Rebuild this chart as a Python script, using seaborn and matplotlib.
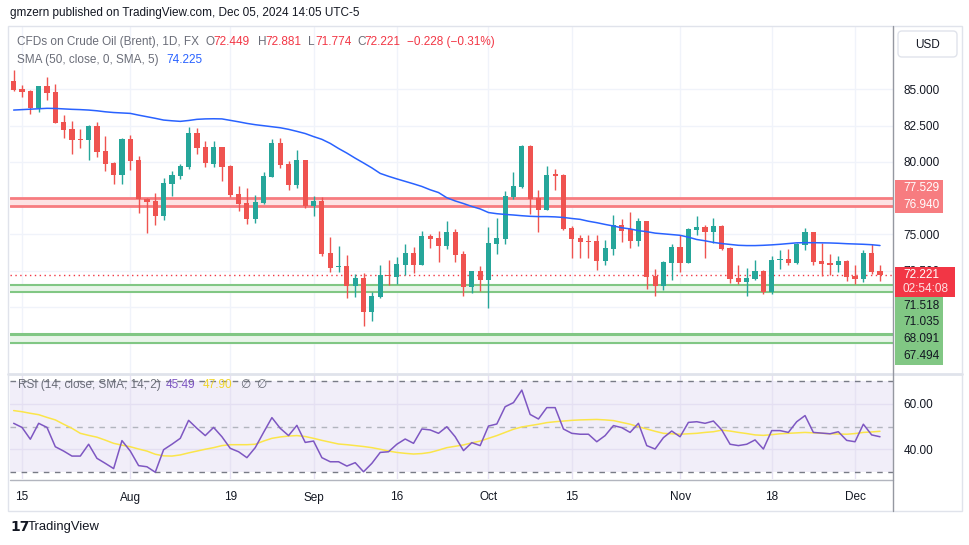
import numpy as np
import pandas as pd
import matplotlib
matplotlib.use("Agg")
import matplotlib.pyplot as plt
from matplotlib.patches import Rectangle, FancyBboxPatch
import seaborn as sns

# ---------------- data ----------------
dates = pd.bdate_range("2024-07-12", "2024-12-05")

opens = [85.57, 85.02, 84.88, 83.69, 85.23, 84.81, 82.74, 82.26, 81.57, 81.50,
         82.47, 80.74, 79.89, 79.09, 81.57, 80.12, 77.41, 77.30, 76.26, 78.47,
         79.02, 79.62, 81.99, 81.00, 79.85, 81.00, 79.71, 77.76, 77.14, 76.08,
         77.14, 78.97, 81.30, 79.85, 78.42, 80.12, 76.97, 77.30, 73.69, 72.74,
         72.81, 71.46, 71.99, 69.66, 70.70, 72.22, 72.08, 72.88, 73.71, 72.88,
         74.88, 74.74, 74.19, 75.16, 73.64, 71.39, 72.47, 71.87, 74.33, 74.70,
         77.59, 78.29, 81.09, 77.50, 76.68, 79.13, 79.09, 75.43, 74.74, 74.54,
         74.54, 73.18, 73.99, 75.64, 75.34, 74.56, 75.92, 72.12, 71.43, 73.04,
         74.12, 73.04, 75.30, 75.50, 75.16, 75.57, 74.06, 71.99, 71.71, 71.92,
         72.47, 71.02, 73.25, 73.30, 73.02, 74.26, 75.16, 73.16, 73.02, 72.88,
         73.16, 72.12, 71.92, 73.71, 72.449]
highs = [86.33, 85.30, 84.92, 85.23, 85.87, 85.37, 83.23, 82.81, 82.24, 82.54,
         82.77, 81.78, 79.99, 81.64, 81.85, 80.40, 77.48, 77.83, 78.86, 79.37,
         79.83, 82.38, 82.31, 81.43, 81.43, 81.02, 79.78, 78.33, 78.17, 77.71,
         79.30, 81.57, 81.64, 80.08, 80.81, 80.14, 77.64, 77.60, 74.79, 74.19,
         73.57, 72.26, 72.31, 71.04, 72.86, 73.23, 73.41, 74.33, 74.15, 75.23,
         75.02, 75.23, 75.92, 75.37, 73.87, 72.49, 72.81, 75.50, 76.12, 77.99,
         79.30, 81.16, 81.16, 78.05, 79.71, 79.50, 79.15, 75.57, 74.95, 74.95,
         74.95, 74.61, 76.33, 76.06, 76.54, 76.12, 75.95, 72.61, 73.16, 74.33,
         74.95, 75.43, 76.26, 75.64, 76.12, 75.64, 74.12, 72.88, 72.67, 73.23,
         72.54, 73.50, 73.92, 73.99, 74.40, 75.43, 75.18, 74.40, 73.64, 73.50,
         73.23, 72.88, 73.92, 74.33, 72.881]
lows = [84.90, 84.49, 83.30, 83.46, 84.26, 82.65, 81.66, 80.54, 80.93, 80.12,
        80.35, 79.39, 78.47, 78.47, 79.43, 76.45, 75.11, 75.64, 75.99, 77.64,
        78.79, 79.48, 80.54, 79.66, 79.66, 78.70, 77.55, 76.63, 75.69, 75.80,
        77.09, 78.95, 79.55, 78.06, 78.17, 76.79, 76.29, 73.50, 72.40, 72.40,
        70.63, 70.70, 68.70, 69.02, 70.63, 71.50, 71.57, 72.19, 72.35, 72.86,
        74.06, 73.12, 73.99, 73.12, 70.74, 70.97, 71.09, 69.94, 73.64, 74.33,
        77.43, 78.17, 76.40, 75.18, 76.66, 78.05, 75.30, 73.37, 73.39, 73.39,
        72.54, 72.86, 73.57, 74.47, 74.08, 74.22, 71.23, 70.74, 71.16, 71.85,
        72.42, 73.02, 74.95, 73.37, 74.40, 73.92, 71.64, 71.57, 70.74, 71.85,
        70.88, 70.88, 72.61, 72.88, 72.95, 73.92, 72.88, 72.12, 72.19, 72.40,
        71.78, 71.57, 71.71, 72.26, 71.774]
closes = [84.95, 84.84, 83.73, 85.23, 84.77, 82.70, 82.19, 81.50, 81.50, 82.47,
          80.70, 79.85, 79.09, 81.57, 80.08, 77.41, 77.23, 76.26, 78.51, 79.06,
          79.71, 82.01, 80.97, 79.89, 81.00, 79.66, 77.71, 77.09, 76.08, 77.20,
          79.02, 81.30, 79.80, 78.42, 80.12, 76.95, 77.30, 73.64, 72.70, 72.81,
          71.46, 71.99, 69.66, 70.74, 72.22, 72.15, 72.95, 73.71, 72.88, 74.88,
          74.70, 74.19, 75.16, 73.57, 71.39, 72.47, 71.87, 74.40, 74.74, 77.64,
          78.33, 81.09, 77.46, 76.68, 79.09, 79.04, 75.37, 74.68, 74.49, 74.49,
          73.18, 74.06, 75.64, 75.25, 74.56, 75.92, 72.08, 71.43, 73.09, 74.12,
          73.04, 75.37, 75.50, 75.16, 75.57, 74.01, 71.92, 71.71, 71.99, 72.47,
          71.02, 73.23, 73.30, 73.02, 74.35, 75.16, 73.09, 72.95, 72.91, 73.16,
          72.06, 71.92, 73.71, 72.40, 72.221]
sma50 = [83.57, 83.60, 83.63, 83.66, 83.69, 83.68, 83.65, 83.62, 83.60, 83.57,
         83.52, 83.45, 83.40, 83.37, 83.34, 83.22, 83.11, 83.00, 82.88, 82.83,
         82.79, 82.85, 82.93, 82.96, 82.97, 82.96, 82.86, 82.76, 82.65, 82.56,
         82.49, 82.42, 82.35, 82.24, 82.10, 81.95, 81.74, 81.55, 81.27, 80.92,
         80.60, 80.25, 79.92, 79.58, 79.20, 79.00, 78.82, 78.65, 78.48, 78.30,
         78.07, 77.88, 77.52, 77.30, 77.12, 76.92, 76.75, 76.50, 76.42, 76.37,
         76.33, 76.28, 76.24, 76.22, 76.22, 76.20, 76.16, 76.09, 76.03, 75.90,
         75.80, 75.68, 75.57, 75.45, 75.37, 75.25, 75.18, 75.08, 75.03, 74.98,
         74.93, 74.80, 74.64, 74.55, 74.44, 74.36, 74.30, 74.24, 74.22, 74.22,
         74.24, 74.27, 74.31, 74.36, 74.41, 74.42, 74.42, 74.41, 74.40, 74.38,
         74.35, 74.33, 74.31, 74.28, 74.225]
rsi = [51.4, 49.6, 44.4, 51.4, 49.6, 41.1, 39.2, 37.0, 37.0, 42.2,
       36.0, 33.8, 31.5, 43.8, 39.2, 32.8, 32.3, 29.9, 39.8, 42.2,
       44.8, 52.7, 49.2, 46.0, 49.6, 45.5, 40.4, 38.9, 36.3, 40.7,
       47.4, 53.9, 49.2, 46.0, 50.5, 43.0, 43.6, 36.3, 34.5, 34.5,
       32.6, 34.1, 30.1, 33.8, 38.6, 38.9, 42.2, 44.5, 42.6, 48.9,
       48.5, 47.0, 49.9, 45.5, 39.4, 42.9, 41.6, 50.2, 51.1, 58.7,
       60.5, 66.0, 55.3, 53.3, 58.3, 58.3, 48.9, 47.0, 46.6, 46.6,
       43.3, 46.0, 50.4, 49.5, 47.4, 51.4, 41.6, 40.1, 45.1, 48.0,
       45.5, 51.8, 52.1, 51.4, 52.4, 48.5, 42.2, 41.6, 42.2, 44.1,
       40.1, 48.2, 48.2, 47.4, 52.1, 54.8, 47.4, 47.1, 46.8, 47.7,
       43.9, 43.3, 51.0, 46.3, 45.49]
rsi_sma = [57.0, 56.5, 55.8, 55.2, 54.0, 52.9, 51.0, 49.2, 47.0, 46.1,
           45.3, 44.0, 42.6, 41.8, 41.1, 40.1, 39.2, 37.8, 37.1, 37.0,
           37.5, 38.4, 39.2, 40.0, 40.7, 41.6, 42.0, 42.0, 42.0, 42.2,
           43.6, 44.8, 45.4, 45.8, 46.0, 45.6, 44.8, 43.9, 43.1, 42.3,
           42.0, 41.6, 41.2, 40.7, 40.0, 39.2, 38.6, 38.2, 37.9, 38.1,
           38.6, 39.6, 40.7, 41.3, 41.9, 42.8, 43.6, 44.8, 46.0, 47.4,
           48.8, 49.8, 50.4, 51.0, 51.7, 52.1, 52.4, 52.7, 52.9, 53.0,
           53.1, 52.9, 52.6, 51.8, 51.0, 49.9, 48.9, 47.9, 47.0, 46.8,
           46.6, 46.8, 47.0, 47.4, 47.7, 48.4, 48.0, 47.4, 46.9, 46.3,
           46.1, 46.4, 46.8, 47.0, 47.2, 47.4, 47.2, 47.0, 46.8, 46.7,
           46.6, 46.9, 47.4, 47.6, 47.9]

price_ticks = [67.5, 70.0, 72.5, 75.0, 77.5, 80.0, 82.5, 85.0]
# 77.500, 70.000 and 67.500 sit behind the level labels on the scale
price_tick_labels = ["", "", "72.500", "75.000", "", "80.000", "82.500", "85.000"]
rsi_ticks = [40, 60]
date_ticks = ["2024-07-15", "2024-08-01", "2024-08-19", "2024-09-02", "2024-09-16",
              "2024-10-01", "2024-10-15", "2024-11-01", "2024-11-18", "2024-12-02"]
date_labels = ["15", "Aug", "19", "Sep", "16", "Oct", "15", "Nov", "18", "Dec"]

resistance = [77.529, 76.940]
support_1 = [71.518, 71.035]
support_2 = [68.091, 67.494]
last_price = 72.221
countdown = "02:54:08"

# ---------------- style ----------------
sns.set_theme(style="white")
plt.rcParams['font.family'] = ['Liberation Sans', 'DejaVu Sans']
UP, DOWN = "#26a69a", "#ef5350"
TXT, GRAY = "#131722", "#6a6d78"
GRID = "#f0f3fa"
FS = 8.45

W, H = 970, 545
fig = plt.figure(figsize=(W / 100, H / 100), dpi=100)


def px_axes(x0, y0, x1, y1):
    return fig.add_axes([x0 / W, 1 - y1 / H, (x1 - x0) / W, (y1 - y0) / H])


ax = px_axes(10, 27, 893, 373)
ax_r = px_axes(10, 374, 893, 479)

df = pd.DataFrame({"date": dates, "open": opens, "high": highs, "low": lows,
                   "close": closes, "sma": sma50, "rsi": rsi, "rsi_sma": rsi_sma})
df["x"] = np.arange(len(df))
tick_pos = [dates.get_loc(pd.Timestamp(d)) for d in date_ticks]

# ---------------- price panel ----------------
for a in (ax, ax_r):
    a.set_xlim(-0.44, 105.56)
    for s in a.spines.values():
        s.set_visible(False)

for p in tick_pos:
    ax.axvline(p, color=GRID, lw=1, zorder=0)
ax.set_ylim(65.43, 89.30)
for p in price_ticks:
    ax.axhline(p, color=GRID, lw=1, zorder=0)

# resistance / support zones
ax.axhspan(resistance[1], resistance[0], color="#fde2e3", lw=0, zorder=1)
for p in resistance:
    ax.axhline(p, color="#f77c80", lw=2, zorder=1.5)
ax.axhspan(support_1[1], support_1[0], color="#e8f5e9", lw=0, zorder=1)
for p in support_1:
    ax.axhline(p, color="#81c784", lw=1.5, zorder=1.5)
ax.axhspan(support_2[1], support_2[0], color="#e8f5e9", lw=0, zorder=1)
ax.axhline(support_2[0], color="#81c784", lw=2.2, zorder=1.5)
ax.axhline(support_2[1], color="#81c784", lw=1.5, zorder=1.5)

ax.axhline(last_price, color="#f23645", lw=1, ls=(0, (1, 2.5)), zorder=1.6)

colors = np.where(df["close"] >= df["open"], UP, DOWN)
body_lo = np.minimum(df["open"], df["close"])
body_h = np.maximum(np.abs(df["close"] - df["open"]), 0.07)
ax.vlines(df["x"], df["low"], df["high"], color=colors, lw=1, zorder=3)
ax.bar(df["x"], body_h, bottom=body_lo, width=0.62, color=colors, lw=0, zorder=4)

sns.lineplot(data=df, x="x", y="sma", ax=ax, color="#2962ff", lw=1.1,
             estimator=None, zorder=5, legend=False)

ax.yaxis.tick_right()
ax.set_yticks(price_ticks)
ax.set_yticklabels(price_tick_labels)
ax.tick_params(axis="y", length=0, pad=7.5, labelsize=FS, labelcolor=TXT)
ax.set_xticks([])
ax.set_xlabel("")
ax.set_ylabel("")

# ---------------- RSI panel ----------------
ax_r.set_ylim(26.92, 73.08)
ax_r.axhspan(30, 70, color="#f1eef9", lw=0, zorder=0)
for p in tick_pos:
    ax_r.axvline(p, color="#e6e2f3", lw=1, zorder=0.5)
for p in rsi_ticks:
    ax_r.axhline(p, color="#e4dff2", lw=1, zorder=0.5)
ax_r.axhline(70, color="#787b86", lw=1, ls=(0, (4, 4)), zorder=1)
ax_r.axhline(30, color="#787b86", lw=1, ls=(0, (4, 4)), zorder=1)
ax_r.axhline(50, color="#b2b5be", lw=1, ls=(0, (4, 4)), zorder=1)
sns.lineplot(data=df, x="x", y="rsi_sma", ax=ax_r, color="#fbe54a", lw=1.1,
             estimator=None, zorder=2, legend=False)
sns.lineplot(data=df, x="x", y="rsi", ax=ax_r, color="#7e57c2", lw=1.1,
             estimator=None, zorder=3, legend=False)
ax_r.yaxis.tick_right()
ax_r.set_yticks(rsi_ticks)
ax_r.set_yticklabels([f"{p:.2f}" for p in rsi_ticks])
ax_r.tick_params(axis="y", length=0, pad=7.5, labelsize=FS, labelcolor=TXT)
ax_r.set_xticks(tick_pos)
ax_r.set_xticklabels(date_labels)
ax_r.tick_params(axis="x", length=0, pad=9, labelsize=FS, labelcolor=TXT)
ax_r.set_xlabel("")
ax_r.set_ylabel("")

# ---------------- overlay (frame, headers, axis labels) ----------------
ov = fig.add_axes([0, 0, 1, 1])
ov.set_xlim(0, W)
ov.set_ylim(H, 0)
ov.axis("off")
ov.patch.set_alpha(0)


def img_y(a, v):
    return H - a.transData.transform((0, v))[1]


ov.text(10, 13, "gmzern published on TradingView.com, Dec 05, 2024 14:05 UTC-5",
        fontsize=FS, color=TXT, va="center")
ov.add_patch(Rectangle((8, 26), 954, 485, fill=False, ec="#e0e3eb", lw=1))
ov.plot([8, 962], [373.5, 373.5], color="#e0e3eb", lw=2)
ov.plot([10, 893], [479.5, 479.5], color="#b2b5be", lw=1)
ov.plot([893.5, 893.5], [26, 511], color="#9598a1", lw=1)
ov.add_patch(FancyBboxPatch((898, 31), 59, 26, boxstyle="round,pad=0,rounding_size=4",
                            fc="white", ec="#e0e3eb", lw=1))
ov.text(927.5, 44.5, "USD", fontsize=FS, color=TXT, ha="center", va="center")

# legend lines
y1, y2 = 42, 60
ov.text(17, y1, "CFDs on Crude Oil (Brent), 1D, FX", fontsize=FS, color=GRAY, va="center")
ohlc = [("O", 206, "72.449"), ("H", 258, "72.881"), ("L", 308, "71.774"), ("C", 357, "72.221")]
for lab, xx, val in ohlc:
    ov.text(xx, y1, lab, fontsize=FS, color=GRAY, va="center")
    ov.text(xx + 7.5, y1, val, fontsize=FS, color="#f23645", va="center")
ov.text(407, y1, "\u22120.228 (\u22120.31%)", fontsize=FS, color="#f23645", va="center")
ov.text(17, y2, "SMA (50, close, 0, SMA, 5)", fontsize=FS, color=GRAY, va="center")
ov.text(166, y2, f"{sma50[-1]:.3f}", fontsize=FS, color="#2962ff", va="center")

yr = 385
ov.text(18, yr, "RSI (14, close, SMA, 14, 2)", fontsize=FS, color=GRAY, va="center")
ov.text(166, yr, f"{rsi[-1]:.2f}", fontsize=FS, color="#7e57c2", va="center")
ov.text(203, yr, f"{rsi_sma[-1]:.2f}", fontsize=FS, color="#f0d62a", va="center")
ov.text(240, yr, "\u2205", fontsize=FS, color=GRAY, va="center")
ov.text(256, yr, "\u2205", fontsize=FS, color=GRAY, va="center")

# price scale labels
ry = img_y(ax, resistance[0]) - 9.3
ov.add_patch(Rectangle((895, ry - 8.5), 48, 33.5, fc="#f77c80", ec="none"))
for k, p in enumerate(resistance):
    ov.text(903, ry + 16.7 * k, f"{p:.3f}", fontsize=FS, color="white", va="center")

ly = img_y(ax, last_price)
ov.add_patch(Rectangle((895, ly - 8), 60, 30, fc="#f23645", ec="none"))
ov.text(903, ly + 0.5, f"{last_price:.3f}", fontsize=FS, color="white", va="center")
ov.text(903, ly + 14.5, countdown, fontsize=FS, color="#fde2e3", va="center")

gy = ly + 22
ov.add_patch(Rectangle((895, gy), 48, 68, fc="#81c784", ec="none"))
for k, p in enumerate(support_1 + support_2):
    ov.text(903, gy + 9 + 16.7 * k, f"{p:.3f}", fontsize=FS, color=TXT, va="center")

# footer logo
ov.text(10, 527, "17", fontsize=10, color=TXT, fontweight="heavy", va="center",
        family="DejaVu Sans")
ov.text(28, 527, "TradingView", fontsize=9.4, color=TXT, va="center")

fig.savefig("out.png", dpi=100)
